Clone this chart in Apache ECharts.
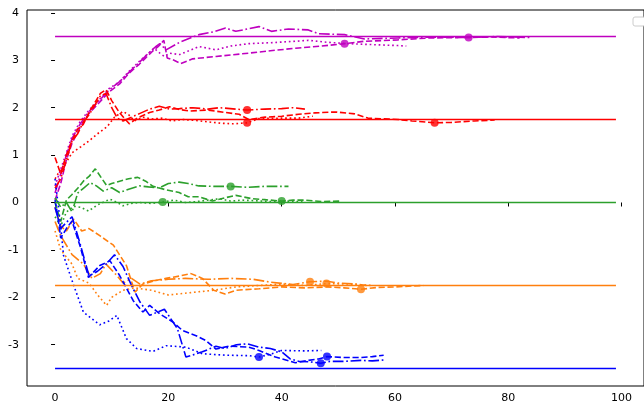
<!DOCTYPE html>
<html>
<head>
<meta charset="utf-8">
<script src="https://cdn.jsdelivr.net/npm/echarts@6/dist/echarts.min.js"></script>
<style>
  html, body { margin: 0; padding: 0; background: #fff; }
  #chart { width: 644px; height: 404px; }
</style>
</head>
<body>
<div id="chart"></div>
<script>
// tick labels
const xTicks = [0, 20, 40, 60, 80, 100]
const yTicks = [-3, -2, -1, 0, 1, 2, 3, 4]

// target levels (solid lines) and their x span
const targets = [3.5, 1.75, 0, -1.75, -3.5]
const targetSpan = [0, 99]

// magenta runs
const magentaDashed = [[0,0.05],[1,0.4],[2,0.9],[3,1.25],[4.4,1.58],[6,1.88],[7.9,2.12],[9.5,2.33],[11.4,2.5],[13,2.72],[14.9,2.92],[16,3.05],[17.3,3.2],[18.3,3.3],[19.2,3.42],[19.8,3.05],[21,3.0],[22.2,2.93],[24.3,3.03],[28.4,3.08],[34.2,3.15],[38,3.2],[43,3.26],[47,3.3],[51.1,3.35],[54.6,3.4],[60.5,3.43],[66,3.47],[72,3.48],[77,3.49],[82,3.47]]
const magentaDashDot = [[0,0.2],[1,0.6],[2,1.0],[3,1.35],[4.4,1.65],[6,1.92],[7.9,2.16],[9.5,2.37],[11.4,2.55],[13,2.74],[14.9,2.96],[16.5,3.15],[17.7,3.28],[18.5,3.35],[19.6,3.22],[22,3.38],[25.4,3.54],[28,3.6],[30.1,3.68],[31.9,3.61],[36,3.71],[38.2,3.61],[41.2,3.66],[44.7,3.64],[46.5,3.56],[51.1,3.54],[54.6,3.45],[60.5,3.47],[66,3.49],[73,3.48],[78,3.5],[84,3.48]]
const magentaDotted = [[0,0.35],[1,0.7],[2,1.05],[3,1.4],[4.4,1.7],[6,1.95],[7.9,2.18],[9.5,2.4],[11.4,2.55],[13,2.76],[14.9,2.98],[16.5,3.15],[17.5,3.25],[18.5,3.15],[19.3,3.08],[20.2,3.15],[22,3.12],[25.4,3.29],[28.4,3.22],[31,3.3],[34.2,3.35],[38,3.37],[42.4,3.4],[44.7,3.42],[48,3.38],[51.7,3.35],[56,3.33],[60.5,3.31],[62,3.3]]
const magentaMarks = [[51.1,3.35],[73,3.48]]

// red runs
const redDashed = [[0,0.95],[1,0.6],[2,1.0],[3,1.3],[4,1.55],[5,1.65],[6,1.9],[7,2.1],[8,2.3],[9,2.38],[10,2.15],[11.4,1.89],[13.1,1.66],[14.5,1.78],[16.7,1.9],[18.4,1.95],[20.2,2.02],[22,1.96],[23.7,1.93],[27,1.95],[30,1.9],[32.5,1.86],[34.2,1.75],[37.1,1.8],[40,1.82],[43,1.86],[45.9,1.89],[49.4,1.91],[52.9,1.87],[55.2,1.78],[60.5,1.75],[63,1.72],[67,1.68],[70,1.69],[74,1.72],[77.6,1.74]]
const redDashDot = [[0,0.3],[1,0.5],[2,0.9],[3,1.3],[4,1.45],[5,1.7],[6,1.85],[7,2.05],[8,2.25],[9,2.3],[10,2.0],[11,1.78],[12,1.72],[13.5,1.8],[15,1.88],[16.7,1.97],[18.4,2.03],[20.2,1.97],[22,1.98],[24.3,2.0],[27,1.97],[29,2.0],[31.9,1.97],[33.9,1.95],[37,1.97],[40,1.98],[42,2.0],[44.1,1.97]]
const redDotted = [[0,0.5],[1,0.7],[2,0.85],[3,1.05],[4.6,1.18],[6,1.3],[7.5,1.45],[9.2,1.6],[10.5,1.8],[12,1.92],[13,1.85],[14,1.72],[15.5,1.8],[17,1.76],[19,1.78],[20.5,1.72],[22.5,1.75],[24.9,1.73],[27,1.7],[29.5,1.67],[31.5,1.66],[33.9,1.68],[36,1.77],[40,1.78],[43,1.78],[45.5,1.82]]
const redMarks = [[33.9,1.95],[33.9,1.68],[67,1.68]]

// green runs
const greenDashed = [[0,0.0],[0.5,-0.2],[1,-0.4],[2,0.05],[3,0.17],[4,0.3],[5,0.45],[6,0.55],[7.1,0.71],[8,0.55],[9.1,0.36],[10,0.4],[11.4,0.45],[13,0.5],[14.6,0.53],[16,0.45],[17.3,0.34],[19.5,0.27],[21.9,0.21],[23.5,0.12],[25.4,0.12],[27.8,0.03],[30,0.1],[31.9,0.15],[34.8,0.08],[37,0.06],[40,0.03],[42,0.05],[44.1,0.05],[47,0.02],[50.5,0.03]]
const greenDashDot = [[0,0.1],[1,-0.1],[2,0.0],[3,-0.2],[4,0.2],[5,0.3],[6.2,0.42],[7.3,0.35],[8.5,0.24],[10,0.31],[11.4,0.21],[13,0.28],[14.9,0.35],[16.5,0.33],[18.4,0.31],[20,0.4],[21.9,0.43],[23.5,0.4],[25.4,0.35],[28,0.34],[31,0.34],[34,0.32],[37,0.34],[41.2,0.34]]
const greenDotted = [[0,-0.3],[1,-0.5],[2,-0.2],[3.3,-0.08],[4.5,-0.1],[5.9,-0.18],[7.5,-0.05],[9.7,0.07],[11,0.0],[12,-0.07],[13.5,-0.02],[14.9,0.0],[17,-0.02],[19,0.01],[21,0.05],[23,0.0],[25,0.02],[27,0.05],[29,0.08],[31,0.03],[33,0.05],[35,0.04],[38,0.02],[41,0.03],[44,0.01]]
const greenMarks = [[19,0.01],[31,0.34],[40,0.03]]

// orange runs
const orangeDashed = [[0,-0.1],[1,-0.5],[2,-0.6],[3.3,-0.35],[4.7,-0.6],[6,-0.55],[7.9,-0.7],[10.3,-0.9],[12.6,-1.33],[14.1,-1.89],[15.5,-1.72],[17.5,-1.65],[19.6,-1.6],[22,-1.55],[24,-1.5],[26,-1.6],[28,-1.85],[30,-1.93],[32,-1.85],[36,-1.82],[40,-1.78],[44,-1.8],[48,-1.78],[51,-1.8],[54,-1.83],[57,-1.79],[60,-1.78],[65,-1.75]]
const orangeDashDot = [[0,-0.4],[1,-0.7],[3,-1.1],[5,-1.3],[6.5,-1.6],[8,-1.5],[9,-1.3],[11,-1.55],[12,-1.7],[13.5,-1.6],[15,-1.72],[17,-1.65],[20,-1.62],[23,-1.6],[27,-1.62],[31,-1.6],[35,-1.62],[38,-1.68],[42,-1.73],[45,-1.67],[48,-1.66],[50,-1.7],[53,-1.72],[55,-1.75]]
const orangeDotted = [[0,-0.6],[1,-1.0],[3,-1.3],[4,-1.6],[6,-1.7],[7.5,-1.95],[9.1,-2.17],[10,-2.0],[12,-1.85],[14,-1.8],[17,-1.85],[20,-1.95],[24,-1.9],[28,-1.85],[32,-1.78],[36,-1.75],[40,-1.72],[44,-1.75],[47.9,-1.71],[52,-1.72],[56,-1.75]]
const orangeMarks = [[45,-1.67],[47.9,-1.71],[54,-1.83]]

// blue runs
const blueDashed = [[0,0.05],[0.5,-0.3],[1,-0.75],[2,-0.55],[3,-0.39],[4.5,-0.95],[5.9,-1.58],[7.9,-1.33],[9.7,-1.23],[11.4,-1.54],[13.8,-2.07],[15.5,-2.31],[16.7,-2.17],[18.5,-2.35],[20.8,-2.52],[22.5,-2.7],[24.9,-2.81],[26.6,-2.91],[28.4,-3.09],[30.7,-3.03],[34.2,-3.05],[36,-3.12],[38.9,-3.26],[42.4,-3.38],[44.7,-3.33],[46.5,-3.3],[48,-3.25],[51,-3.27],[54,-3.27],[56,-3.25],[58,-3.22]]
const blueDashDot = [[0,-0.1],[1,-0.55],[2,-0.42],[3,-0.3],[4.5,-0.9],[6,-1.55],[7.5,-1.45],[9,-1.3],[10.5,-1.1],[12,-1.35],[13.5,-1.75],[15,-2.1],[16.7,-2.38],[19.3,-2.25],[21.6,-2.66],[23.1,-3.26],[26,-3.15],[28.4,-3.03],[30,-3.08],[32,-3.0],[34,-2.98],[36,-3.05],[38,-3.08],[40,-3.15],[41.5,-3.3],[43,-3.35],[45,-3.36],[46.9,-3.39],[48.5,-3.35],[51,-3.35],[54,-3.33],[56,-3.34],[58.1,-3.32]]
const blueDotted = [[0,0.5],[0.5,0.0],[1,-0.5],[1.5,-1.12],[3.3,-1.75],[5,-2.31],[6.5,-2.45],[7.9,-2.58],[9.5,-2.5],[10.9,-2.38],[12.6,-2.87],[14.4,-3.08],[17.3,-3.14],[19.6,-3.02],[23.1,-3.05],[26,-3.19],[30,-3.22],[34.2,-3.23],[36,-3.26],[38,-3.2],[40,-3.12],[44,-3.13],[47,-3.12]]
const blueMarks = [[36,-3.26],[46.9,-3.39],[48,-3.25]]

const colors = ['#bf00bf', '#ff0000', '#2ca02c', '#ff7f0e', '#0000ff']
const runs = [
  [magentaDashed, magentaDashDot, magentaDotted],
  [redDashed, redDashDot, redDotted],
  [greenDashed, greenDashDot, greenDotted],
  [orangeDashed, orangeDashDot, orangeDotted],
  [blueDashed, blueDashDot, blueDotted]
]
const marks = [magentaMarks, redMarks, greenMarks, orangeMarks, blueMarks]

// matplotlib-like dash patterns
const dashes = [[6.2, 2.7], [10.7, 2.7, 1.7, 2.7], [1.7, 2.8]]

let series = []
runs.forEach((group, i) => {
  group.forEach((data, j) => {
    series.push({
      type: 'line',
      data: data,
      symbol: 'none',
      silent: true,
      z: 2,
      lineStyle: { color: colors[i], width: 1.6, type: dashes[j], cap: 'butt' }
    })
  })
})
targets.forEach((t, i) => {
  series.push({
    type: 'line',
    data: targetSpan.map(x => [x, t]),
    symbol: 'none',
    silent: true,
    z: 3,
    lineStyle: { color: colors[i], width: 1.6 }
  })
})
marks.forEach((m, i) => {
  series.push({
    type: 'scatter',
    data: m,
    symbol: 'circle',
    symbolSize: 8,
    silent: true,
    z: 4,
    itemStyle: { color: colors[i] }
  })
})

let myChart = echarts.init(document.getElementById('chart'))
let option = {
  animation: false,
  grid: {
    left: 27, top: 10, width: 621, height: 377,
    show: true, borderColor: '#000', borderWidth: 1, backgroundColor: 'transparent'
  },
  xAxis: {
    type: 'value',
    min: -4.95,
    max: 103.95,
    splitLine: { show: false },
    axisLine: { show: false },
    axisTick: { show: true, length: 4, customValues: xTicks, lineStyle: { color: '#000' } },
    axisLabel: {
      customValues: xTicks, margin: 7,
      color: '#000', fontFamily: 'DejaVu Sans', fontSize: 11
    }
  },
  yAxis: {
    type: 'value',
    min: -3.87,
    max: 4.06,
    splitLine: { show: false },
    axisLine: { show: false },
    axisTick: { show: true, length: 4, customValues: yTicks, lineStyle: { color: '#000' } },
    axisLabel: {
      customValues: yTicks, margin: 8,
      color: '#000', fontFamily: 'DejaVu Sans', fontSize: 11,
      formatter: v => String(v)
    }
  },
  graphic: [
    {
      // empty legend frame, top right
      type: 'rect',
      shape: { x: 633, y: 17, width: 12, height: 9, r: 2 },
      style: { fill: '#fff', stroke: '#cccccc', lineWidth: 1 },
      silent: true
    }
  ],
  series: series
}
myChart.setOption(option)
</script>
</body>
</html>
